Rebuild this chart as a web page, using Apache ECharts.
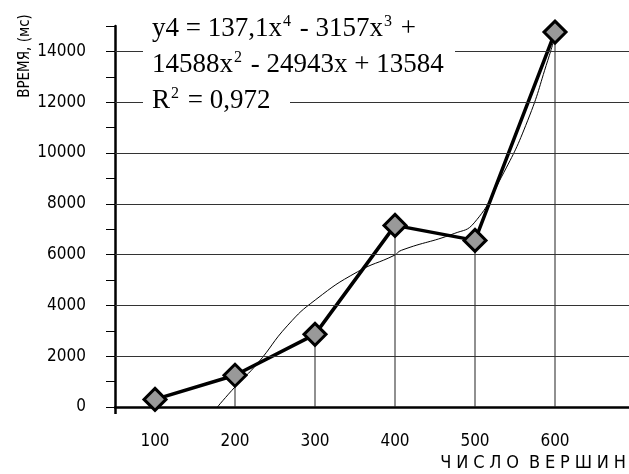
<!DOCTYPE html>
<html lang="ru">
  <head>
    <meta charset="UTF-8" />
    <script
      type="text/javascript"
      src="https://cdn.jsdelivr.net/npm/echarts@6/dist/echarts.min.js"
    ></script>
    <style>
      html,
      body {
        margin: 0;
        overflow: hidden;
        background: #fff;
      }
      #viewport {
        position: absolute;
        left: 0px;
        top: 0px;
        width: 629px;
        height: 474px;
      }
    </style>
  </head>
  <body>
    <div id="viewport"></div>
    <script>
      // categories (last one is an empty slot, the plot runs on past 600)
      var categories = ['100', '200', '300', '400', '500', '600', ''];
      // measured time, ms
      var timeValues = [300, 1250, 2860, 7150, 6560, 14760];
      // thin trend curve: [category position (1 = "100"), ms]
      var trendPoints = [
        [1.78, 0],
        [2.0, 790],
        [2.28, 1710],
        [2.66, 3220],
        [3.01, 4230],
        [3.53, 5320],
        [3.99, 5970],
        [4.08, 6170],
        [4.74, 6830],
        [4.99, 7250],
        [5.33, 9050],
        [5.66, 11290],
        [5.91, 13650],
        [6.0, 14600]
      ];
      var gridValues = [2000, 4000, 6000, 8000, 10000, 12000, 14000];

      // no narrow face is installed, the condensed DejaVu is the closest
      var narrow = '"DejaVu Sans Condensed", "Liberation Sans", sans-serif';
      var serif = '"Liberation Serif", "DejaVu Serif", serif';

      var myChart = echarts.init(document.getElementById('viewport'), null, {
        renderer: 'canvas'
      });

      var eqRich = {
        n: { fontFamily: serif, fontSize: 27, lineHeight: 30, color: '#000' },
        s: {
          fontFamily: serif,
          fontSize: 16,
          lineHeight: 17,
          verticalAlign: 'top',
          padding: [0, 2, 0, 1],
          color: '#000'
        }
      };

      var option = {
        animation: false,
        backgroundColor: '#fff',
        grid: {
          left: 115,
          top: 26,
          width: 560,
          bottom: 67,
          outerBoundsMode: 'none',
          containLabel: false
        },
        xAxis: [
          {
            type: 'category',
            data: categories,
            boundaryGap: true,
            axisLine: { lineStyle: { color: '#000', width: 2.5 } },
            axisTick: {
              show: true,
              length: 7,
              interval: function (index) {
                return index === 0;
              },
              lineStyle: { color: '#000', width: 2.5 }
            },
            axisLabel: {
              color: '#000',
              fontFamily: narrow,
              fontSize: 17,
              margin: 26
            },
            splitLine: { show: false }
          },
          {
            type: 'value',
            min: 0.5,
            max: 7.5,
            show: false
          }
        ],
        yAxis: {
          type: 'value',
          min: 0,
          max: 15000,
          interval: 1000,
          axisLine: { show: true, lineStyle: { color: '#000', width: 2.5 } },
          axisTick: {
            show: true,
            length: 9,
            lineStyle: { color: '#000', width: 1 }
          },
          axisLabel: {
            color: '#000',
            fontFamily: narrow,
            fontSize: 17,
            margin: 29,
            formatter: function (v) {
              return v % 2000 === 0 ? String(v) : '';
            }
          },
          splitLine: { show: false }
        },
        series: [
          {
            // drop lines from each point to the axis
            type: 'bar',
            data: timeValues,
            barWidth: 1,
            itemStyle: { color: '#222' },
            silent: true,
            z: 1,
            markLine: {
              silent: true,
              symbol: 'none',
              label: { show: false },
              lineStyle: { color: '#333', width: 1.2, type: 'solid' },
              data: gridValues.map(function (v) {
                return { yAxis: v };
              })
            }
          },
          {
            type: 'line',
            xAxisIndex: 1,
            data: trendPoints,
            smooth: true,
            symbol: 'none',
            lineStyle: { color: '#000', width: 1 },
            z: 3
          },
          {
            type: 'line',
            data: timeValues,
            symbol: 'diamond',
            symbolSize: 22,
            lineStyle: { color: '#000', width: 3.5 },
            itemStyle: { color: '#999', borderColor: '#000', borderWidth: 3 },
            z: 4
          }
        ],
        graphic: [
          {
            type: 'rect',
            z: 100,
            shape: { x: 143, y: 10, width: 312, height: 74 },
            style: { fill: '#fff' }
          },
          {
            type: 'rect',
            z: 100,
            shape: { x: 143, y: 86, width: 147, height: 32 },
            style: { fill: '#fff' }
          },
          {
            type: 'text',
            z: 101,
            x: 152,
            y: 14,
            style: {
              text: '{n|y4 = 137,1x}{s|4}{n| - 3157x}{s|3}{n| +}',
              rich: eqRich
            }
          },
          {
            type: 'text',
            z: 101,
            x: 152,
            y: 50,
            style: {
              text: '{n|14588x}{s|2}{n| - 24943x + 13584}',
              rich: eqRich
            }
          },
          {
            type: 'text',
            z: 101,
            x: 152,
            y: 86,
            style: {
              text: '{n|R}{s|2}{n| = 0,972}',
              rich: eqRich
            }
          },
          {
            type: 'text',
            z: 101,
            x: 25,
            y: 56,
            rotation: Math.PI / 2,
            style: {
              text: 'ВРЕМЯ, (мс)',
              font: '15px ' + narrow,
              fill: '#000',
              align: 'center',
              verticalAlign: 'middle'
            }
          },
          {
            type: 'text',
            z: 101,
            x: 626,
            y: 463,
            style: {
              text: 'Ч\u2009\u200AИ\u2009\u200AС\u2009\u200AЛ\u2009\u200AО\u2009\u200A В\u2009\u200AЕ\u2009\u200AР\u2009\u200AШ\u2009\u200AИ\u2009\u200AН',
              font: '18px ' + narrow,
              fill: '#000',
              align: 'right',
              verticalAlign: 'middle'
            }
          }
        ]
      };

      myChart.setOption(option);
    </script>
  </body>
</html>
